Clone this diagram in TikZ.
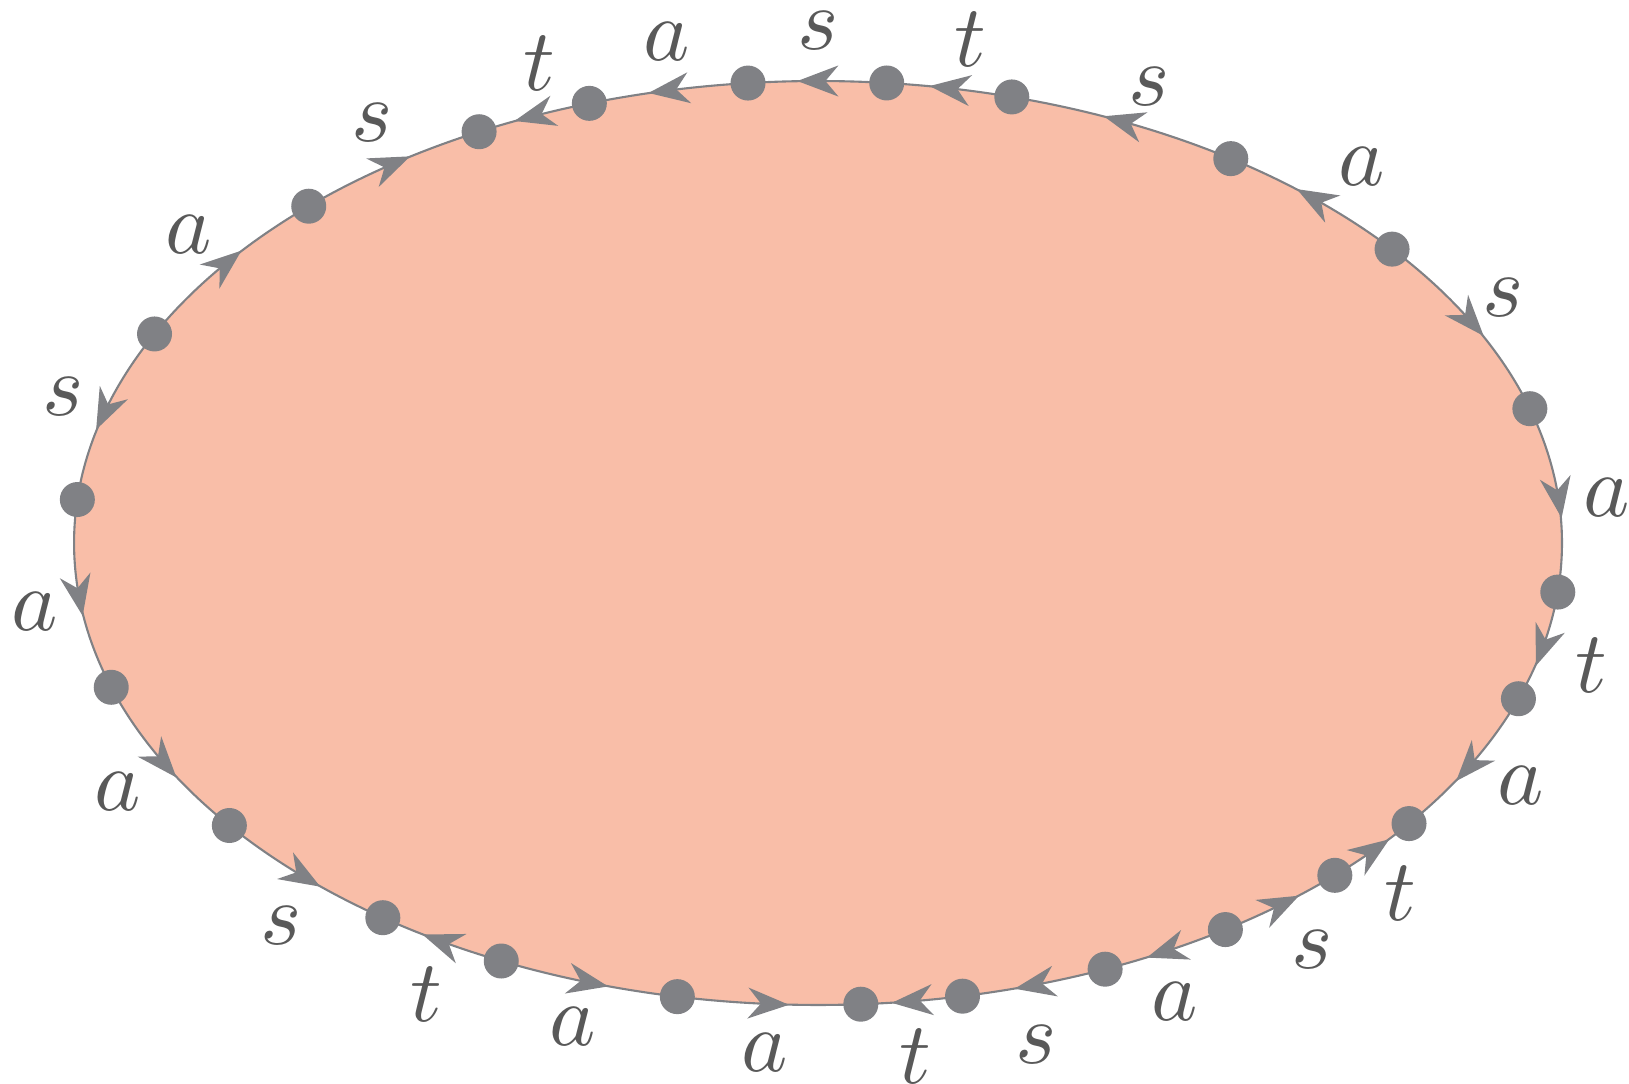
\documentclass[tikz,border=0pt]{standalone}
\usepackage{xcolor}
\usepackage{tikz}
\usetikzlibrary{arrows.meta,decorations.markings}

\definecolor{salmon}{RGB}{249,190,168}
\definecolor{dotgray}{RGB}{128,129,133}

\begin{document}
\begin{tikzpicture}[
  region/.style={fill=salmon},
  edge/.style={draw=dotgray, line width=0.6pt, postaction={decorate},
    decoration={markings, mark=at position 0.5 with
      {\arrow[dotgray, xshift=0.2cm]{Stealth[length=0.41cm, width=0.31cm, inset=0.13cm]}}}},
  vert/.style={circle, fill=dotgray, minimum size=0.35cm, inner sep=0pt},
  lbl/.style={text=black!65, scale=2.5, inner sep=0pt},
]
\useasboundingbox (0,0) rectangle (16.29,10.83);

%% -- Boundary of the disc --------------------------------------------------
\def\rx{7.44} \def\ry{4.62}
\begin{scope}[shift={(8.18,5.40)}]

\fill[region] (0,0) ellipse [x radius=\rx, y radius=\ry];

%% Edges: from-angle / to-angle (arrow goes from -> to)
\foreach \f/\t in {84.7/95.4, 74.9/84.7, 56.3/74.9, 39.5/56.3,
    39.5/16.9, 16.9/-6.1, -6.1/-19.7, -19.7/-37.4,
    -46.0/-37.4, -56.8/-46.0, -56.8/-67.3, -67.3/-78.8,
    -78.8/-86.7, -100.9/-86.7, -115.2/-100.9, -115.2/-125.8,
    -142.3/-125.8, -161.8/-142.3, -185.4/-161.8, -206.9/-185.4,
    -206.9/-226.8, -226.8/-242.9, -252.1/-242.9, -264.6/-252.1} {
  \draw[edge] ({\f}:{\rx} and {\ry}) arc[start angle=\f, end angle=\t, x radius=\rx, y radius=\ry];
}

%% Edge letters
\foreach \w/\x/\y [count=\k] in {s/0.00/5.12, t/1.52/5.04, s/3.31/4.56, a/5.44/3.76,
    s/6.85/2.45, a/7.89/0.45, t/7.73/-1.22, a/7.03/-2.43,
    t/5.82/-3.50, s/4.94/-4.07, a/3.57/-4.59, s/2.18/-5.02,
    t/0.97/-5.13, a/-0.53/-5.10, a/-2.45/-4.84, t/-3.92/-4.51,
    s/-5.37/-3.83, a/-7.00/-2.49, a/-7.83/-0.69, s/-7.55/1.46,
    a/-6.29/3.08, s/-4.46/4.20, t/-2.79/4.80, a/-1.51/5.01} {
  \node[lbl] (l\k) at (\x,\y) {$\w$};
}

%% Vertices
\foreach \ang [count=\i] in {95.4, 84.7, 74.9, 56.3, 39.5, 16.9, -6.1, -19.7,
    -37.4, -46.0, -56.8, -67.3, -78.8, -86.7, -100.9, -115.2,
    -125.8, -142.3, -161.8, -185.4, -206.9, -226.8, -242.9, -252.1} {
  \node[vert] (v\i) at ({\ang}:{\rx} and {\ry}) {};
}

\end{scope}
\end{tikzpicture}
\end{document}
